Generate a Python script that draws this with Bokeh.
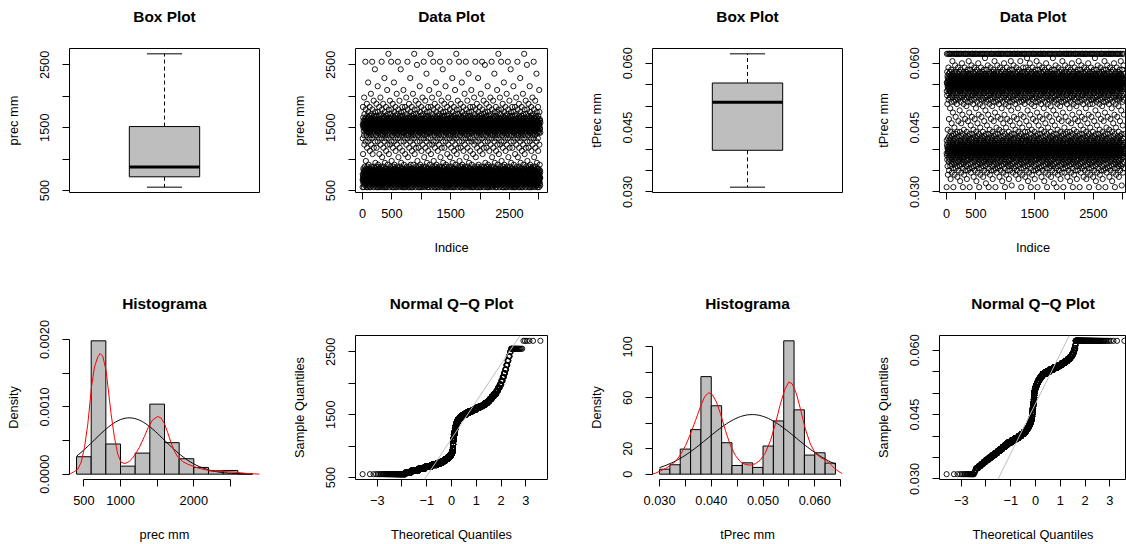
import math
import numpy as np
from statistics import NormalDist

from bokeh.plotting import figure
from bokeh.layouts import column, row
from bokeh.models import Range1d, FixedTicker, Slope, LinearAxis, Title
from bokeh.embed import file_html
from bokeh.resources import INLINE

FONT = "Liberation Sans"
GRAY = "#BEBEBE"

# ---------------------------------------------------------------- prec (mm)
# sample as a frequency table: value level -> number of observations
prec_levels = [553, 580, 610, 640, 670, 700, 730, 760, 790, 820, 850, 880, 910, 940, 970,
               1030, 1080, 1130, 1180, 1230, 1280, 1330, 1380,
               1420, 1450, 1480, 1500, 1530, 1555, 1580, 1610, 1635, 1660, 1690, 1715,
               1750, 1790, 1830, 1880, 1930, 1980, 2040, 2100, 2160, 2220, 2290, 2360,
               2430, 2500, 2550, 2676]
prec_counts = [95, 62, 115, 150, 195, 225, 205, 155, 113, 110, 75, 45, 22, 12, 7,
               12, 14, 18, 28, 25, 35, 42, 52,
               80, 75, 80, 130, 130, 130, 100, 100, 80, 50, 45, 26,
               30, 26, 26, 15, 13, 11, 8, 7, 6, 5, 5, 4,
               4, 3, 19, 6]
# boxplot statistics: lower whisker, Q1, median, Q3, upper whisker
prec_box = [553, 718, 873, 1518, 2676]
# histogram (density scale)
prec_breaks = [400, 600, 800, 1000, 1200, 1400, 1600, 1800, 2000, 2200, 2400, 2600, 2800]
prec_density = [0.000259, 0.00198, 0.000448, 0.000119, 0.000313, 0.00104, 0.000468,
                0.000229, 0.0001, 0.00005, 0.000055, 0.000008]
# kernel density estimate (red)
prec_kde_x = [314, 373, 418, 463, 509, 554, 604, 645, 690, 722, 758, 803, 871, 917, 962,
              1008, 1062, 1121, 1189, 1257, 1325, 1379, 1438, 1506, 1552, 1597, 1642, 1688,
              1733, 1778, 1846, 1915, 2005, 2096, 2187, 2277, 2368, 2459, 2549, 2640, 2731,
              2822, 2899]
prec_kde_y = [0.000005, 0.00004, 0.000075, 0.000174, 0.000398, 0.000746, 0.001294, 0.001592,
              0.001741, 0.001791, 0.001751, 0.001542, 0.000896, 0.000547, 0.000299, 0.000174,
              0.000159, 0.000189, 0.000274, 0.000398, 0.000557, 0.000697, 0.000806, 0.000856,
              0.000836, 0.000756, 0.000622, 0.000473, 0.000348, 0.000259, 0.000189, 0.000149,
              0.00011, 0.00008, 0.00006, 0.000045, 0.00004, 0.000035, 0.00003, 0.00002,
              0.00001, 0.000005, 0.0]
# fitted normal (black)
prec_mean, prec_sd = 1120, 477

# ---------------------------------------------------------------- tPrec (mm)
tprec_levels = [0.0311, 0.0315, 0.0320,
                0.0325, 0.0330, 0.0335, 0.0340,
                0.0345, 0.0350, 0.0355, 0.0360,
                0.0365, 0.0370, 0.0375, 0.0380,
                0.0385, 0.0390, 0.0395, 0.0400,
                0.0405, 0.0410, 0.0415, 0.0420,
                0.0425, 0.0430, 0.0435, 0.0440,
                0.0445, 0.0450, 0.0455, 0.0460,
                0.0465, 0.0470, 0.0475, 0.0480,
                0.0485, 0.0490, 0.0495, 0.0500,
                0.0505, 0.0510, 0.0515, 0.0520,
                0.0525, 0.0530, 0.0535, 0.0540,
                0.0545, 0.0550, 0.0555, 0.0560,
                0.0565, 0.0570, 0.0575, 0.0580,
                0.0585, 0.0590, 0.0595, 0.0600, 0.0605, 0.0612, 0.0622]
tprec_counts = [20, 2, 2,
                8, 10, 12, 15,
                22, 27, 32, 38,
                42, 48, 56, 66,
                100, 118, 126, 120,
                102, 88, 74, 61,
                50, 42, 33, 24,
                13, 10, 9, 9,
                14, 14, 13, 13,
                7, 7, 8, 10,
                22, 30, 38, 44,
                50, 58, 68, 77,
                150, 165, 160, 147,
                110, 85, 65, 46,
                30, 22, 12, 8, 10, 4, 160]
tprec_box = [0.0311, 0.0397, 0.0509, 0.0554, 0.0622]
tprec_breaks = [0.030, 0.032, 0.034, 0.036, 0.038, 0.040, 0.042, 0.044, 0.046, 0.048,
                0.050, 0.052, 0.054, 0.056, 0.058, 0.060, 0.062, 0.064]
tprec_density = [3.9, 7.4, 19.7, 35.0, 76.6, 53.7, 24.7, 6.8, 8.9, 5.3, 22.1, 41.8,
                 104.7, 50.5, 15.0, 16.8, 8.7]
tprec_kde_x = [0.02858, 0.02923, 0.03019, 0.03116, 0.03212, 0.03309, 0.03405, 0.03502,
               0.03598, 0.03695, 0.03792, 0.03875, 0.03952, 0.04017, 0.041, 0.04178,
               0.04274, 0.04371, 0.04467, 0.04564, 0.0466, 0.04757, 0.04853, 0.0495,
               0.05046, 0.05143, 0.05239, 0.05336, 0.0542, 0.05497, 0.05561, 0.05645,
               0.05722, 0.05818, 0.05915, 0.06012, 0.06108, 0.06205, 0.06301, 0.06398,
               0.06494, 0.06533]
tprec_kde_y = [0.0, 0.8, 2.6, 4.5, 6.8, 10.0, 15.3, 22.4, 31.6, 42.1, 53.2, 61.1, 63.9, 62.6,
               56.6, 47.4, 34.2, 22.4, 14.5, 9.7, 7.6, 7.1, 8.2, 11.1, 16.8, 26.3, 39.5,
               55.3, 66.3, 72.4, 71.1, 63.2, 51.3, 35.5, 23.7, 16.3, 13.2, 11.1, 7.9, 3.9,
               1.3, 0.5]
tprec_mean, tprec_sd = 0.04789, 0.008524

# ---------------------------------------------------------------- ticks
prec_ticks = [500, 1000, 1500, 2000, 2500]
prec_tick_labels = ["500", "", "1500", "", "2500"]
tprec_ticks = [0.030, 0.035, 0.040, 0.045, 0.050, 0.055, 0.060]
tprec_tick_labels = ["0.030", "", "", "0.045", "", "", "0.060"]
index_ticks = [0, 500, 1000, 1500, 2000, 2500, 3000]
index_tick_labels = ["0", "500", "", "1500", "", "2500", ""]
quant_ticks = [-3, -2, -1, 0, 1, 2, 3]
quant_tick_labels = ["\u22123", "", "\u22121", "0", "1", "2", "3"]
hist_prec_xticks = [500, 1000, 1500, 2000, 2500]
hist_prec_xlabels = ["500", "1000", "", "2000", ""]
hist_prec_yticks = [0, 0.0005, 0.0010, 0.0015, 0.0020]
hist_prec_ylabels = ["0.0000", "", "0.0010", "", "0.0020"]
hist_tprec_xticks = [0.030, 0.035, 0.040, 0.045, 0.050, 0.055, 0.060, 0.065]
hist_tprec_xlabels = ["0.030", "", "0.040", "", "0.050", "", "0.060", ""]
hist_tprec_yticks = [0, 20, 40, 60, 80, 100]
hist_tprec_ylabels = ["0", "20", "", "60", "", "100"]

# ---------------------------------------------------------------- page geometry
COL_W = [286, 297, 287, 256]
COL_RIGHT = [27, 36, 28, 0]
ROW_H = [287, 257]
ROW_BOTTOM = [95, 65]
LEFT, TOP = 69, 48
LAST_FRAME_FULL, LAST_FRAME_SHOWN = 192, 187   # right-most column runs off the page


def pad(lo, hi, f=0.04):
    d = (hi - lo) * f
    return lo - d, hi + d


def rng(lo, hi, col=0):
    lo, hi = pad(lo, hi)
    if col == 3:
        hi = lo + (hi - lo) * LAST_FRAME_SHOWN / LAST_FRAME_FULL
    return Range1d(lo, hi)


def expand(levels, counts):
    return np.repeat(np.asarray(levels, dtype=float), counts)


def spread_order(n):
    # golden-ratio stride: spreads each value level evenly along the index axis
    step = int(round(n * 0.6180339887))
    while math.gcd(step, n) != 1:
        step += 1
    return (np.arange(n) * step) % n + 1


def normal_quantiles(n):
    nd = NormalDist()
    return np.array([nd.inv_cdf((i - 0.5) / n) for i in range(1, n + 1)])


def panel(col, rw, x_range, y_range, title, outline=True):
    p = figure(width=COL_W[col], height=ROW_H[rw], x_range=x_range, y_range=y_range,
               output_backend="svg", toolbar_location=None, tools="", title=None,
               min_border_left=LEFT, min_border_right=COL_RIGHT[col],
               min_border_top=TOP, min_border_bottom=ROW_BOTTOM[rw])
    # blank band between the frame and the title: an unmarked axis with one blank label
    mid = (x_range.start + x_range.end) / 2
    gap = LinearAxis(ticker=FixedTicker(ticks=[mid]), major_label_overrides={mid: " "},
                     major_tick_out=0, major_tick_in=0,
                     axis_line_color=None, major_tick_line_color=None,
                     minor_tick_line_color=None, major_label_standoff=4,
                     major_label_text_font=FONT, major_label_text_font_size="12px")
    p.add_layout(gap, "above")
    p.add_layout(Title(text=title, align="center", text_font=FONT,
                       text_font_size="15.4px", text_font_style="bold",
                       text_color="black", standoff=6), "above")
    p.xgrid.visible = False
    p.ygrid.visible = False
    p.outline_line_color = "black" if outline else None
    p.outline_line_width = 1
    p.background_fill_color = "white"
    p.border_fill_color = "white"
    return p


def style_axis(ax, ticks, labels, label, vertical=False):
    ax.ticker = FixedTicker(ticks=ticks)
    ax.major_label_overrides = {t: s for t, s in zip(ticks, labels)}
    ax.bounds = (min(ticks), max(ticks))
    ax.axis_label = label
    ax.axis_label_text_font = FONT
    ax.axis_label_text_font_size = "12.8px"
    ax.axis_label_text_font_style = "normal"
    ax.axis_label_text_color = "black"
    ax.major_label_text_font = FONT
    ax.major_label_text_font_size = "12.8px"
    ax.major_label_text_color = "black"
    ax.major_tick_out = 7
    ax.major_tick_in = 0
    ax.minor_tick_line_color = None
    ax.axis_line_color = "black"
    ax.major_tick_line_color = "black"
    if vertical:
        ax.major_label_orientation = "vertical"
        ax.major_label_standoff = 13
        ax.axis_label_standoff = 17
    else:
        ax.major_label_standoff = 9
        ax.axis_label_standoff = 19


def box_panel(col, stats, yticks, ylabels, ylabel):
    lo, q1, med, q3, hi = stats
    p = panel(col, 0, rng(0.5, 1.5, col), rng(lo, hi), "Box Plot")
    p.below[0].visible = False
    style_axis(p.yaxis[0], yticks, ylabels, ylabel, vertical=True)
    p.segment(x0=[1, 1], y0=[q3, q1], x1=[1, 1], y1=[hi, lo],
              line_color="black", line_width=1, line_dash="4 3")
    p.segment(x0=[0.9, 0.9], y0=[hi, lo], x1=[1.1, 1.1], y1=[hi, lo],
              line_color="black", line_width=1)
    p.quad(left=[0.8], right=[1.2], bottom=[q1], top=[q3],
           fill_color=GRAY, line_color="black", line_width=1)
    p.segment(x0=[0.8], y0=[med], x1=[1.2], y1=[med], line_color="black", line_width=3)
    return p


def data_panel(col, values, yticks, ylabels, ylabel):
    n = len(values)
    idx = spread_order(n)
    p = panel(col, 0, rng(1, n, col), rng(values.min(), values.max()), "Data Plot")
    style_axis(p.below[0], index_ticks, index_tick_labels, "Indice")
    style_axis(p.yaxis[0], yticks, ylabels, ylabel, vertical=True)
    p.scatter(x=idx, y=values, marker="circle", size=5.2, fill_color=None,
              line_color="black", line_width=0.9)
    return p


def hist_panel(col, breaks, dens, kde_x, kde_y, mu, sd, xt, xl, yt, yl, xlabel):
    p = panel(col, 1, rng(breaks[0], breaks[-1], col), rng(0, max(dens)),
              "Histograma", outline=False)
    style_axis(p.below[0], xt, xl, xlabel)
    style_axis(p.yaxis[0], yt, yl, "Density", vertical=True)
    p.quad(left=breaks[:-1], right=breaks[1:], bottom=0, top=dens,
           fill_color=GRAY, line_color="black", line_width=1)
    xs = np.linspace(breaks[0], breaks[-1], 101)
    ys = np.exp(-0.5 * ((xs - mu) / sd) ** 2) / (sd * math.sqrt(2 * math.pi))
    p.line(xs, ys, line_color="black", line_width=1)
    p.line(kde_x, kde_y, line_color="red", line_width=1)
    return p


def qq_panel(col, values, box_stats, yticks, ylabels):
    n = len(values)
    z = normal_quantiles(n)
    p = panel(col, 1, rng(z.min(), z.max(), col), rng(values.min(), values.max()),
              "Normal Q\u2212Q Plot")
    style_axis(p.below[0], quant_ticks, quant_tick_labels, "Theoretical Quantiles")
    style_axis(p.yaxis[0], yticks, ylabels, "Sample Quantiles", vertical=True)
    p.scatter(x=z, y=np.sort(values), marker="circle", size=5.2, fill_color=None,
              line_color="black", line_width=0.9)
    # reference line through the first and third quartiles
    zq = NormalDist().inv_cdf(0.75)
    q1, q3 = box_stats[1], box_stats[3]
    slope = (q3 - q1) / (2 * zq)
    p.add_layout(Slope(gradient=slope, y_intercept=(q1 + q3) / 2,
                       line_color=GRAY, line_width=1))
    return p


prec = expand(prec_levels, prec_counts)
tprec = expand(tprec_levels, tprec_counts)

top_row = row(
    box_panel(0, prec_box, prec_ticks, prec_tick_labels, "prec mm"),
    data_panel(1, prec, prec_ticks, prec_tick_labels, "prec mm"),
    box_panel(2, tprec_box, tprec_ticks, tprec_tick_labels, "tPrec mm"),
    data_panel(3, tprec, tprec_ticks, tprec_tick_labels, "tPrec mm"),
)
bottom_row = row(
    hist_panel(0, prec_breaks, prec_density, prec_kde_x, prec_kde_y, prec_mean, prec_sd,
               hist_prec_xticks, hist_prec_xlabels, hist_prec_yticks, hist_prec_ylabels,
               "prec mm"),
    qq_panel(1, prec, prec_box, prec_ticks, prec_tick_labels),
    hist_panel(2, tprec_breaks, tprec_density, tprec_kde_x, tprec_kde_y, tprec_mean,
               tprec_sd, hist_tprec_xticks, hist_tprec_xlabels, hist_tprec_yticks,
               hist_tprec_ylabels, "tPrec mm"),
    qq_panel(3, tprec, tprec_box, tprec_ticks, tprec_tick_labels),
)
layout = column(top_row, bottom_row)

open("out.html", "w").write(file_html(layout, INLINE))
